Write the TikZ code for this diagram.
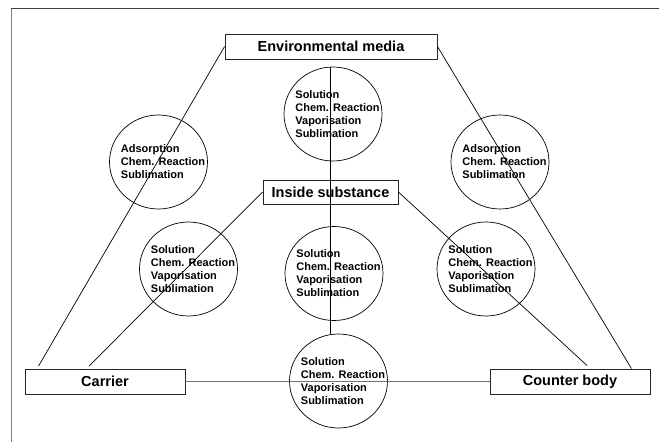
\documentclass[tikz,border=0pt]{standalone}
\usepackage{fontspec}
\setmainfont{Liberation Sans}
\usetikzlibrary{shapes.geometric}

\begin{document}
\begin{tikzpicture}[x=1pt,y=-1pt,
    medium/.style={draw=black!85, line width=0.9pt, minimum height=25pt,
                   inner sep=0pt, font=\fontsize{14.5}{17}\selectfont\bfseries},
    process/.style={draw, ellipse, line width=0.7pt, minimum width=98pt,
                    minimum height=94pt, inner sep=0pt},
    proctext/.style={align=left, inner sep=0pt,
                     font=\fontsize{11}{13}\selectfont\bfseries},
    link/.style={line width=0.7pt}]

            \useasboundingbox (0,0) rectangle (659,442);

            % page frame, top and left only
            \draw[black!75, line width=1.3pt] (11,8.5) -- (659,8.5);
            \draw[black!50, line width=0.9pt] (11.5,8.5) -- (11.5,442);

            % the four media
            \node[medium, minimum width=212pt] (env) at (331,46.5) {Environmental media};
            \node[medium, minimum width=135pt, minimum height=24pt] (inside) at (330.5,192) {Inside substance};
            \node[medium, minimum width=160pt] (carrier) at (105,381.5) {Carrier};
            \node[medium, minimum width=160pt] (counter) at (570,381.5) {Counter body};

            % the processes between them
            \node[process] (solenv) at (333,114) {};
            \node[process] (adsleft) at (158.5,162) {};
            \node[process] (adsright) at (500,162) {};
            \node[process] (solleft) at (188.5,269) {};
            \node[process] (solmid) at (334,273.5) {};
            \node[process] (solright) at (486,269) {};
            \node[process] (solbottom) at (338.5,381) {};

            % process names
            \node[proctext] at ([xshift=4.5pt]solenv.center) {Solution\\Chem. Reaction\\Vaporisation\\Sublimation};
            \node[proctext] at ([xshift=4.5pt]adsleft.center) {Adsorption\\Chem. Reaction\\Sublimation};
            \node[proctext] at ([xshift=4.5pt]adsright.center) {Adsorption\\Chem. Reaction\\Sublimation};
            \node[proctext] at ([xshift=4.5pt]solleft.center) {Solution\\Chem. Reaction\\Vaporisation\\Sublimation};
            \node[proctext] at ([xshift=4.5pt]solmid.center) {Solution\\Chem. Reaction\\Vaporisation\\Sublimation};
            \node[proctext] at ([xshift=4.5pt]solright.center) {Solution\\Chem. Reaction\\Vaporisation\\Sublimation};
            \node[proctext] at ([xshift=4.5pt]solbottom.center) {Solution\\Chem. Reaction\\Vaporisation\\Sublimation};

            % ends of the slanted links, just above the lower boxes
            \coordinate (carrierA) at ([xshift=14pt,yshift=2.5pt]carrier.north west);
            \coordinate (carrierB) at ([xshift=64.5pt,yshift=2.5pt]carrier.north west);
            \coordinate (counterA) at ([xshift=97.5pt,yshift=3pt]counter.north west);
            \coordinate (counterB) at ([xshift=-19pt]counter.north east);

            % outer links from the environmental media
            \draw[link] (env.west) -- (carrierA);
            \draw[link] (env.east) -- (counterB);

            % inner links from the inside substance
            \draw[link] (inside.west) -- (carrierB);
            \draw[link] (inside.east) -- (counterA);

            % vertical link through the middle
            \draw[link] (inside |- solenv.north) -- (inside |- solbottom.north);

            % carrier to counter body
            \draw[black!55, line width=1.4pt] (carrier.east) -- (counter.west);
\end{tikzpicture}
\end{document}
